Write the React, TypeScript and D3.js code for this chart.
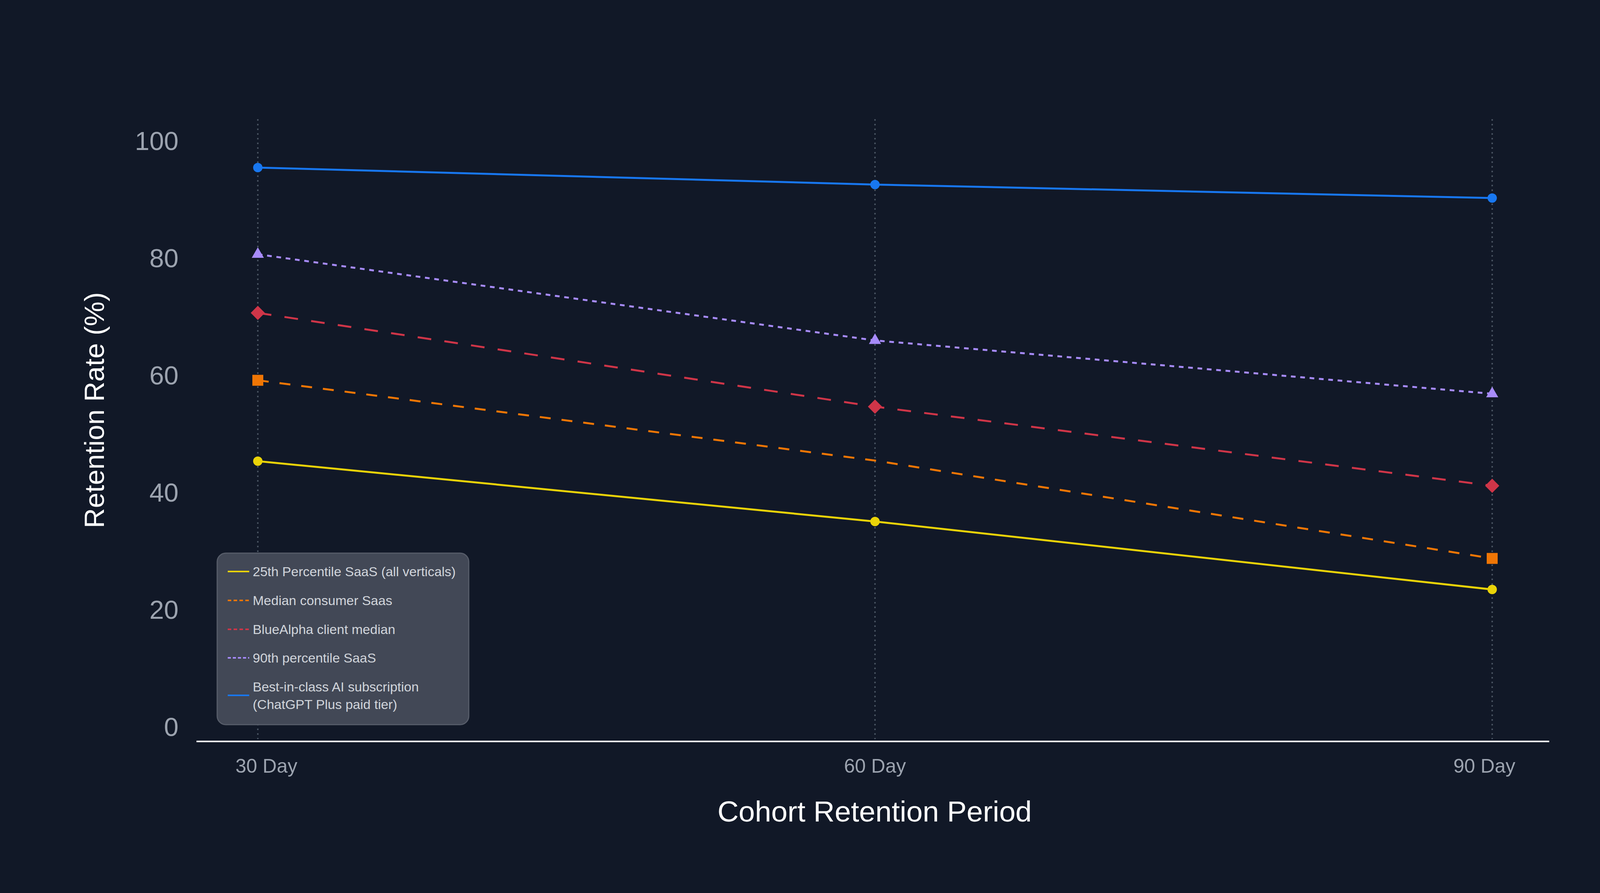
import * as d3 from 'd3';

const categories = ['30 Day', '60 Day', '90 Day'];
const yTicks = [0, 20, 40, 60, 80, 100];

const p25Saas = [45.3, 35.0, 23.4];
const medianConsumer = [59.1, 45.4, 28.7];
const blueAlphaMedian = [70.6, 54.6, 41.1];
const p90Saas = [80.6, 65.9, 56.8];
const bestInClassAI = [95.4, 92.5, 90.2];

// the reference shows no marker on the orange series at 60 Day
const medianConsumerMarked = [true, false, true];

const seriesNames = [
  ['25th Percentile SaaS (all verticals)'],
  ['Median consumer Saas'],
  ['BlueAlpha client median'],
  ['90th percentile SaaS'],
  ['Best-in-class AI subscription', '(ChatGPT Plus paid tier)'],
];

const W = 4354;
const H = 2286;
const FONT = '"Liberation Sans", Arial, Helvetica, sans-serif';

const series = [
  { values: p25Saas, color: '#EAD308', dash: null, legendDash: null, symbol: d3.symbolCircle, size: 452, rotate: 0, marked: [true, true, true] },
  { values: medianConsumer, color: '#F07605', dash: '28,28', legendDash: '9,6', symbol: d3.symbolSquare, size: 784, rotate: 0, marked: medianConsumerMarked },
  { values: blueAlphaMedian, color: '#CF3548', dash: '35,34', legendDash: '9,6', symbol: d3.symbolSquare, size: 660, rotate: 45, marked: [true, true, true] },
  { values: p90Saas, color: '#A78BFA', dash: '12,12', legendDash: '8,5', symbol: d3.symbolTriangle, size: 420, rotate: 0, marked: [true, true, true] },
  { values: bestInClassAI, color: '#1877F0', dash: null, legendDash: null, symbol: d3.symbolCircle, size: 452, rotate: 0, marked: [true, true, true] },
];

export default function App() {
  const x = d3.scalePoint<string>().domain(categories).range([660, 3820]);
  const y = d3.scaleLinear().domain([0, 100]).range([1860, 360]);

  const axisY = 1898;
  const gridTop = 305;

  const line = d3
    .line<number>()
    .x((_, i) => x(categories[i]) as number)
    .y((d) => y(d));

  // label nudges so end labels sit inside like the reference
  const labelShift = [22, 0, -20];

  const legendX = 556;
  const legendY = 1416;
  const legendRows = [1463, 1537, 1611, 1684, 1780];

  return (
    <svg
      width={W}
      height={H}
      style={{ position: 'absolute', left: 0, top: 0, display: 'block' }}
      fontFamily={FONT}
    >
      <rect width={W} height={H} fill="#111827" />

      {/* vertical dotted grid */}
      {categories.map((c) => (
        <line
          key={c}
          x1={x(c)}
          x2={x(c)}
          y1={gridTop}
          y2={axisY - 6}
          stroke="#4B5563"
          strokeWidth={3.5}
          strokeDasharray="4,8"
        />
      ))}

      {/* x axis line */}
      <line x1={503} x2={3966} y1={axisY} y2={axisY} stroke="#FFFFFF" strokeWidth={4} />

      {/* y tick labels */}
      {yTicks.map((t) => (
        <text key={t} x={457} y={y(t) + 24} textAnchor="end" fontSize={67} fill="#9CA3AF">
          {t}
        </text>
      ))}

      {/* x tick labels */}
      {categories.map((c, i) => (
        <text key={c} x={(x(c) as number) + labelShift[i]} y={1978} textAnchor="middle" fontSize={50} fill="#9CA3AF">
          {c}
        </text>
      ))}

      {/* axis titles */}
      <text x={2239} y={2103} textAnchor="middle" fontSize={75} fill="#FFFFFF">
        Cohort Retention Period
      </text>
      <text
        transform={`translate(266,1050) rotate(-90)`}
        textAnchor="middle"
        fontSize={71}
        fill="#FFFFFF"
      >
        Retention Rate (%)
      </text>

      {/* series lines */}
      {series.map((s, si) => (
        <path
          key={'l' + si}
          d={line(s.values) || ''}
          fill="none"
          stroke={s.color}
          strokeWidth={5}
          strokeDasharray={s.dash || undefined}
        />
      ))}

      {/* markers */}
      {series.map((s, si) =>
        s.values.map((v, i) =>
          s.marked[i] ? (
            <path
              key={'m' + si + '-' + i}
              transform={`translate(${x(categories[i])},${y(v)}) rotate(${s.rotate})`}
              d={d3.symbol().type(s.symbol).size(s.size)() || ''}
              fill={s.color}
            />
          ) : null
        )
      )}

      {/* legend */}
      <rect
        x={legendX}
        y={legendY}
        width={644}
        height={439}
        rx={22}
        fill="#424856"
        stroke="#565C69"
        strokeWidth={3}
      />
      {series.map((s, si) => (
        <g key={'lg' + si}>
          <line
            x1={583}
            x2={638}
            y1={legendRows[si]}
            y2={legendRows[si]}
            stroke={s.color}
            strokeWidth={4}
            strokeDasharray={s.legendDash || undefined}
          />
          {seriesNames[si].map((t, ti) => (
            <text
              key={ti}
              x={647}
              y={
                legendRows[si] + 12 +
                (seriesNames[si].length > 1 ? (ti - (seriesNames[si].length - 1) / 2) * 45 : 0)
              }
              fontSize={34}
              fill="#D1D5DB"
            >
              {t}
            </text>
          ))}
        </g>
      ))}
    </svg>
  );
}
